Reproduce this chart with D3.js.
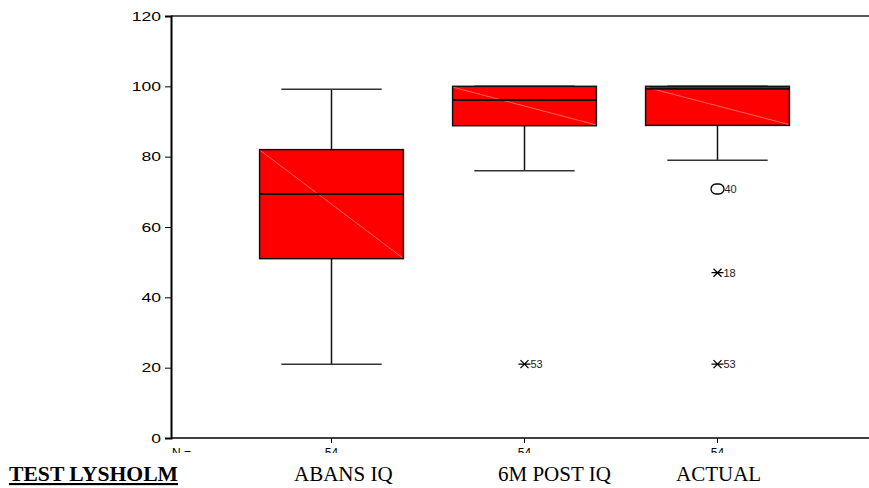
<!DOCTYPE html>
<html>
<head>
<meta charset="utf-8">
<script src="https://cdn.jsdelivr.net/npm/d3@7"></script>
<style>
  body { margin: 0; background: #fff; }
  svg { display: block; }
</style>
</head>
<body>
<div id="chart"></div>
<script>
// box plot data
const groups = ["ABANS IQ", "6M POST IQ", "ACTUAL"];
const counts = [54, 54, 54];
const whiskerLow = [21, 76, 79];
const q1 = [51, 88.8, 88.9];
const median = [69.4, 96.1, 99.3];
const q3 = [82, 100, 100];
const whiskerHigh = [99.2, 100, 100];
// outliers: group index, value, case label, kind
const outliers = [
  { g: 1, v: 21, label: "53", kind: "extreme" },
  { g: 2, v: 70.8, label: "40", kind: "outlier" },
  { g: 2, v: 47, label: "18", kind: "extreme" },
  { g: 2, v: 21, label: "53", kind: "extreme" }
];
const yTicks = [0, 20, 40, 60, 80, 100, 120];
const footTitle = "TEST LYSHOLM";
const footLabelX = [294, 498, 676];

const width = 869, height = 488;
const plotLeft = 171, plotRight = 869, plotTop = 16, plotBottom = 438;

const svg = d3.select("#chart").append("svg")
  .attr("width", width)
  .attr("height", height);

const y = d3.scaleLinear().domain([0, 120]).range([plotBottom, plotTop]);
const x = d3.scaleBand().domain(groups).range([235, 814]);
const boxW = x.bandwidth() * 0.745;
const capW = x.bandwidth() * 0.52;
const cx = g => x(g) + x.bandwidth() / 2;

// frame: top line
svg.append("line")
  .attr("x1", plotLeft).attr("x2", plotRight)
  .attr("y1", y(120)).attr("y2", y(120))
  .attr("stroke", "#222").attr("stroke-width", 1.5);

// y axis
const yAxis = svg.append("g")
  .attr("transform", `translate(${plotLeft},0)`)
  .call(d3.axisLeft(y).tickValues(yTicks).tickSize(6).tickPadding(4));
yAxis.select(".domain").attr("stroke", "#000").attr("stroke-width", 2);
yAxis.selectAll(".tick line").attr("stroke", "#000");
yAxis.selectAll(".tick text")
  .attr("font-family", "Liberation Sans, Arial, sans-serif")
  .attr("font-size", 13.5)
  .attr("fill", "#000")
  .attr("x", 0)
  .attr("transform", "translate(-10,0) scale(1.3,1)");

// x axis
const xAxis = svg.append("g")
  .attr("transform", `translate(0,${plotBottom})`);
xAxis.append("line")
  .attr("x1", plotLeft).attr("x2", plotRight)
  .attr("stroke", "#000").attr("stroke-width", 1.5);
xAxis.selectAll("line.tk")
  .data(groups)
  .join("line")
  .attr("class", "tk")
  .attr("x1", d => cx(d)).attr("x2", d => cx(d))
  .attr("y1", 0).attr("y2", 5)
  .attr("stroke", "#000");

// N = labels, half hidden under the caption area
const clip = svg.append("defs").append("clipPath").attr("id", "nclip");
clip.append("rect").attr("x", 0).attr("y", plotBottom).attr("width", width).attr("height", 15);
const nLabels = svg.append("g").attr("clip-path", "url(#nclip)")
  .attr("font-family", "Liberation Sans, Arial, sans-serif")
  .attr("font-size", 12)
  .attr("fill", "#000");
nLabels.append("text")
  .attr("x", plotLeft + 1).attr("y", 457)
  .text("N =");
nLabels.selectAll("text.n")
  .data(groups)
  .join("text")
  .attr("class", "n")
  .attr("x", d => cx(d)).attr("y", 457)
  .attr("text-anchor", "middle")
  .text((d, i) => counts[i]);

// boxes
const box = svg.append("g").selectAll("g")
  .data(groups)
  .join("g");

box.append("line")
  .attr("x1", d => cx(d)).attr("x2", d => cx(d))
  .attr("y1", (d, i) => y(whiskerLow[i]))
  .attr("y2", (d, i) => y(q1[i]))
  .attr("stroke", "#111").attr("stroke-width", 1.5);
box.append("line")
  .attr("x1", d => cx(d)).attr("x2", d => cx(d))
  .attr("y1", (d, i) => y(whiskerHigh[i]))
  .attr("y2", (d, i) => y(q3[i]))
  .attr("stroke", "#111").attr("stroke-width", 1.5);
box.append("line")
  .attr("x1", d => cx(d) - capW / 2).attr("x2", d => cx(d) + capW / 2)
  .attr("y1", (d, i) => y(whiskerLow[i])).attr("y2", (d, i) => y(whiskerLow[i]))
  .attr("stroke", "#333").attr("stroke-width", 1.5);
box.append("line")
  .attr("x1", d => cx(d) - capW / 2).attr("x2", d => cx(d) + capW / 2)
  .attr("y1", (d, i) => y(whiskerHigh[i])).attr("y2", (d, i) => y(whiskerHigh[i]))
  .attr("stroke", "#333").attr("stroke-width", 1.5);

box.append("rect")
  .attr("x", d => cx(d) - boxW / 2)
  .attr("y", (d, i) => y(q3[i]))
  .attr("width", boxW)
  .attr("height", (d, i) => y(q1[i]) - y(q3[i]))
  .attr("fill", "#ff0000")
  .attr("stroke", "#111").attr("stroke-width", 1.5);

// faint diagonal inside the box
box.append("line")
  .attr("x1", d => cx(d) - boxW / 2 + 1).attr("x2", d => cx(d) + boxW / 2 - 1)
  .attr("y1", (d, i) => y(q3[i]) + 1).attr("y2", (d, i) => y(q1[i]) - 1)
  .attr("stroke", "#ff7a7a").attr("stroke-width", 0.8);

box.append("line")
  .attr("x1", d => cx(d) - boxW / 2).attr("x2", d => cx(d) + boxW / 2)
  .attr("y1", (d, i) => y(median[i])).attr("y2", (d, i) => y(median[i]))
  .attr("stroke", "#111").attr("stroke-width", 2);

// outliers
const out = svg.append("g").selectAll("g")
  .data(outliers)
  .join("g")
  .attr("transform", d => `translate(${cx(groups[d.g])},${y(d.v)})`);

out.filter(d => d.kind === "outlier")
  .append("rect")
  .attr("x", -6.5).attr("y", -5).attr("width", 13).attr("height", 10)
  .attr("rx", 5).attr("ry", 5)
  .attr("fill", "none").attr("stroke", "#000").attr("stroke-width", 1.3);

out.filter(d => d.kind === "extreme")
  .append("path")
  .attr("d", "M-6,0H6M-4,-4L4,4M-4,4L4,-4")
  .attr("fill", "none").attr("stroke", "#000").attr("stroke-width", 1.3);

out.append("text")
  .attr("x", d => d.kind === "outlier" ? 7 : 6)
  .attr("y", 4)
  .attr("font-family", "Liberation Sans, Arial, sans-serif")
  .attr("font-size", 11)
  .attr("fill", "#222")
  .text(d => d.label);

// caption row under the chart
const foot = svg.append("g")
  .attr("font-family", "Liberation Serif, 'Times New Roman', serif")
  .attr("font-size", 21)
  .attr("fill", "#000");
foot.append("text")
  .attr("x", 9).attr("y", 481)
  .attr("font-size", 21.5)
  .attr("font-weight", "bold")
  .attr("text-decoration", "underline")
  .attr("textLength", 169)
  .attr("lengthAdjust", "spacingAndGlyphs")
  .text(footTitle);
foot.selectAll("text.g")
  .data(groups)
  .join("text")
  .attr("class", "g")
  .attr("x", (d, i) => footLabelX[i])
  .attr("y", 481)
  .text(d => d);
</script>
</body>
</html>
